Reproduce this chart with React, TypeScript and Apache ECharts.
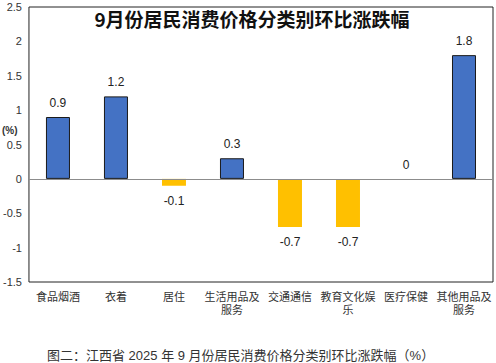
import React, { useEffect, useRef } from "react";
import * as echarts from "echarts";

const categories = [
  "食品烟酒",
  "衣着",
  "居住",
  "生活用品及\n服务",
  "交通通信",
  "教育文化娱\n乐",
  "医疗保健",
  "其他用品及\n服务",
];
const values = [0.9, 1.2, -0.1, 0.3, -0.7, -0.7, 0, 1.8];
const yTicks = { min: -1.5, max: 2.5, interval: 0.5 };
const title = "9月份居民消费价格分类别环比涨跌幅";
const caption = "图二：江西省 2025 年 9 月份居民消费价格分类别环比涨跌幅（%）";
const unitLabel = "(%)";

const FONT = "Liberation Sans, Noto Sans CJK SC, sans-serif";
const CJK = "Noto Sans CJK SC, sans-serif";

export default function App() {
  const ref = useRef<HTMLDivElement>(null);
  useEffect(() => {
    if (!ref.current) return;
    const chart = echarts.init(ref.current, undefined, { renderer: "svg" });
    const data = values.map((v) => ({
      value: v,
      itemStyle:
        v > 0
          ? { color: "#4472C4", borderColor: "#1a1a1a", borderWidth: 1 }
          : { color: "#FFC000", borderWidth: 0 },
      label: {
        show: true,
        position: v < 0 ? "bottom" : "top",
        distance: v < 0 ? 9 : 8,
      },
    }));
    chart.setOption({
      animation: false,
      backgroundColor: "#fff",
      textStyle: { fontFamily: FONT },
      grid: {
        left: 26,
        right: 3,
        top: 7,
        bottom: 81,
        show: true,
        borderColor: "#222",
        borderWidth: 1,
        containLabel: false,
      },
      xAxis: {
        type: "category",
        data: categories,
        axisLine: { show: false },
        axisTick: { show: false },
        axisLabel: {
          interval: 0,
          margin: 8,
          fontSize: 11,
          lineHeight: 13,
          color: "#333",
          fontFamily: FONT,
        },
      },
      yAxis: {
        type: "value",
        min: yTicks.min,
        max: yTicks.max,
        interval: yTicks.interval,
        axisLine: { show: false },
        axisTick: { show: false },
        splitLine: { show: false },
        axisLabel: { fontSize: 11, color: "#333", margin: 7, fontFamily: FONT },
      },
      series: [
        {
          type: "bar",
          data,
          barWidth: 24,
          label: {
            show: true,
            fontSize: 12,
            color: "#222",
            fontFamily: FONT,
          },
          markLine: {
            silent: true,
            symbol: ["none", "none"],
            label: { show: false },
            lineStyle: { color: "#8c8c8c", type: "solid", width: 1 },
            data: [{ yAxis: 0 }],
          },
        },
      ],
      graphic: [
        {
          type: "text",
          x: 252,
          y: 18,
          style: {
            text: title,
            fontSize: 19,
            fontWeight: "bold",
            fontFamily: CJK,
            fill: "#111",
            align: "center",
            verticalAlign: "middle",
          },
        },
        {
          type: "text",
          left: 2,
          top: 125,
          style: {
            text: unitLabel,
            fontSize: 10,
            fontWeight: "bold",
            fontFamily: FONT,
            fill: "#333",
          },
        },
        {
          type: "text",
          x: 47,
          y: 355,
          style: {
            text: caption,
            fontSize: 13,
            fontFamily: FONT,
            fill: "#333",
            verticalAlign: "middle",
          },
        },
      ],
    });
    return () => chart.dispose();
  }, []);
  return (
    <div
      ref={ref}
      style={{ width: 496, height: 363, position: "absolute", left: 0, top: 0 }}
    />
  );
}
